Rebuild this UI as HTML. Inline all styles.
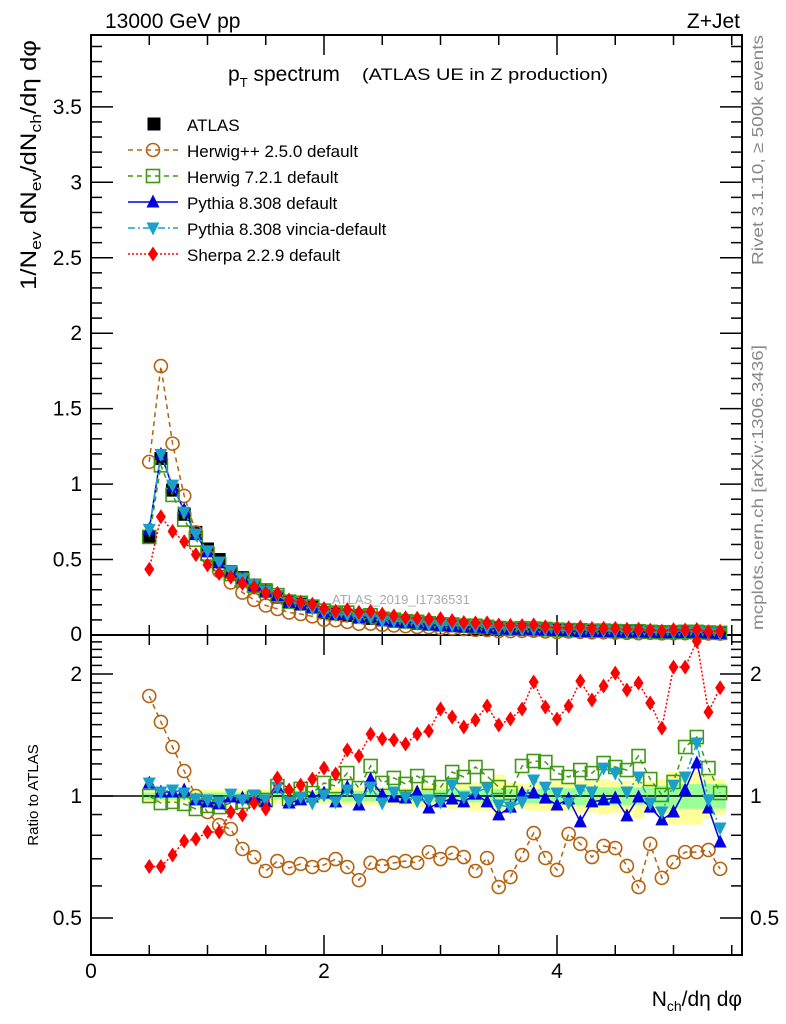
<!DOCTYPE html>
<html><head><meta charset="utf-8"><style>
body{margin:0;background:#fff;}
svg{display:block;font-family:"Liberation Sans",sans-serif;}
</style></head><body>
<svg id="chart" width="786" height="1024" viewBox="0 0 786 1024" xmlns="http://www.w3.org/2000/svg">
<rect width="786" height="1024" fill="#fff"/>
<g id="bands"></g>
<g id="axes"></g>
<g id="marks"></g>
<text x="105" y="28" font-size="21">13000 GeV pp</text>
<text x="740" y="28" font-size="21" text-anchor="end">Z+Jet</text>
<text x="228" y="81" font-size="21">p<tspan font-size="13" dy="6">T</tspan><tspan dy="-6"> spectrum</tspan></text>
<text x="362" y="80" font-size="17" textLength="246" lengthAdjust="spacingAndGlyphs">(ATLAS UE in Z production)</text>
<text x="332" y="604" font-size="13" fill="#aaa">ATLAS_2019_I1736531</text>
<text transform="translate(763,35) rotate(-90)" font-size="16" fill="#888" text-anchor="end" textLength="230" lengthAdjust="spacingAndGlyphs">Rivet 3.1.10, ≥ 500k events</text>
<text transform="translate(763,345) rotate(-90)" font-size="16" fill="#888" text-anchor="end" textLength="285" lengthAdjust="spacingAndGlyphs">mcplots.cern.ch [arXiv:1306.3436]</text>
<text transform="translate(36,290) rotate(-90)" font-size="22" textLength="250" lengthAdjust="spacingAndGlyphs">1/N<tspan font-size="15" dy="5">ev</tspan><tspan dy="-5"> dN</tspan><tspan font-size="15" dy="5">ev</tspan><tspan dy="-5">/dN</tspan><tspan font-size="15" dy="5">ch</tspan><tspan dy="-5">/dη dφ</tspan></text>
<text transform="translate(38,795) rotate(-90)" font-size="15" text-anchor="middle">Ratio to ATLAS</text>
<text x="742" y="1006" font-size="21" text-anchor="end">N<tspan font-size="14" dy="5">ch</tspan><tspan dy="-5">/dη dφ</tspan></text>
<g id="legend"></g>
</svg>
<script>
const xVals=[0.5,0.6,0.7,0.8,0.9,1.0,1.1,1.2,1.3,1.4,1.5,1.6,1.7,1.8,1.9,2.0,2.1,2.2,2.3,2.4,2.5,2.6,2.7,2.8,2.9,3.0,3.1,3.2,3.3,3.4,3.5,3.6,3.7,3.8,3.9,4.0,4.1,4.2,4.3,4.4,4.5,4.6,4.7,4.8,4.9,5.0,5.1,5.2,5.3,5.4];
const atlasVals=[0.65,1.17,0.96,0.80,0.68,0.57,0.50,0.42,0.38,0.33,0.30,0.25,0.225,0.205,0.185,0.15,0.14,0.13,0.12,0.11,0.10,0.092,0.085,0.078,0.072,0.066,0.061,0.056,0.052,0.048,0.044,0.041,0.038,0.035,0.033,0.031,0.029,0.027,0.025,0.024,0.022,0.021,0.020,0.019,0.018,0.017,0.016,0.015,0.014,0.014];
const herwigppRatio=[1.765,1.523,1.321,1.152,1.0,0.913,0.848,0.829,0.740,0.707,0.653,0.691,0.664,0.680,0.668,0.676,0.699,0.668,0.620,0.684,0.672,0.684,0.691,0.684,0.727,0.699,0.723,0.707,0.653,0.703,0.596,0.631,0.715,0.810,0.703,0.657,0.806,0.762,0.707,0.753,0.744,0.672,0.596,0.762,0.628,0.687,0.727,0.727,0.736,0.661];
const herwig7Ratio=[1.0,0.961,0.967,0.956,0.929,0.945,0.939,0.961,0.967,0.989,0.978,1.058,0.983,1.041,1.017,1.077,1.058,1.139,1.046,1.186,1.077,1.108,1.071,1.12,1.077,1.052,1.146,1.114,1.179,1.12,1.052,1.017,1.186,1.22,1.213,1.139,1.114,1.159,1.139,1.206,1.179,1.159,1.255,1.101,1.006,1.083,1.321,1.398,1.172,1.017];
const pythiaRatio=[1.077,1.023,1.023,1.035,0.978,0.967,0.956,0.994,0.989,0.994,0.967,1.052,0.961,0.978,0.994,1.017,0.967,1.052,0.95,1.101,1.006,0.994,0.989,1.023,0.934,0.967,0.983,0.967,1.011,0.967,0.898,0.939,1.017,1.017,0.989,0.95,0.983,0.863,0.967,0.978,0.989,0.893,0.994,0.939,0.873,0.913,1.035,1.206,0.934,0.77];
const vinciaRatio=[1.077,1.023,1.035,1.017,0.983,0.978,0.967,1.011,0.978,1.006,0.978,1.052,0.967,0.994,0.961,1.006,0.967,1.035,0.978,1.052,0.961,1.023,0.994,0.972,0.978,0.967,1.064,0.994,1.023,1.046,0.95,0.939,0.967,1.095,1.052,1.017,0.961,1.035,1.023,1.172,1.139,1.023,1.114,0.961,0.913,1.064,1.114,1.351,0.978,0.834];
const sherpaRatio=[0.67,0.67,0.715,0.774,0.783,0.815,0.815,0.913,0.898,0.961,0.929,1.108,1.035,1.064,1.101,1.172,1.133,1.299,1.255,1.422,1.382,1.375,1.344,1.422,1.447,1.639,1.567,1.48,1.54,1.668,1.497,1.549,1.639,1.911,1.658,1.549,1.668,1.922,1.725,1.868,2.01,1.826,1.9,1.696,1.471,2.08,2.08,2.41,1.61,1.85];
const statBand=[0.02,0.02,0.02,0.02,0.02,0.02,0.02,0.02,0.02,0.02,0.02,0.02,0.02,0.025,0.025,0.025,0.025,0.03,0.03,0.03,0.03,0.03,0.03,0.03,0.03,0.035,0.035,0.035,0.035,0.04,0.04,0.04,0.04,0.04,0.045,0.045,0.045,0.05,0.05,0.05,0.05,0.05,0.05,0.05,0.06,0.07,0.07,0.07,0.07,0.07];
const totalBand=[0.03,0.03,0.03,0.03,0.035,0.035,0.035,0.035,0.04,0.04,0.04,0.04,0.04,0.04,0.04,0.045,0.045,0.05,0.05,0.05,0.05,0.05,0.05,0.06,0.06,0.06,0.07,0.07,0.08,0.08,0.13,0.08,0.07,0.08,0.08,0.09,0.08,0.09,0.09,0.1,0.09,0.09,0.12,0.09,0.1,0.15,0.15,0.15,0.12,0.1];
const yMainTicks=[0.5,1,1.5,2,2.5,3,3.5];
const yMainTickLabels=["0.5","1","1.5","2","2.5","3","3.5"];
const xTicks=[0,2,4];
const xTickLabels=["0","2","4"];
const ratioTicks=[0.5,1,2];
const ratioTickLabels=["0.5","1","2"];

const NS="http://www.w3.org/2000/svg";
const L=91,R=742,T1=35,B1=635,T2=635,B2=955;
const xS=v=>L+ (v)*116.5;
const yM=v=>B1-v*150.9;
const yR=v=>796-122*Math.log2(v);
function mk(tag,attrs,parent){const e=document.createElementNS(NS,tag);for(const k in attrs)e.setAttribute(k,attrs[k]);parent.appendChild(e);return e;}
const axes=document.getElementById('axes'),marks=document.getElementById('marks'),bands=document.getElementById('bands'),leg=document.getElementById('legend');

xVals.forEach((x,i)=>{
  const x0=xS(x-0.05),x1=xS(x+0.05);
  let r=mk('rect',{x:x0,y:yR(1+totalBand[i]),width:x1-x0,height:yR(1-totalBand[i])-yR(1+totalBand[i]),fill:'#ffff99'},bands);
  
  
  r=mk('rect',{x:x0,y:yR(1+statBand[i]),width:x1-x0,height:yR(1-statBand[i])-yR(1+statBand[i]),fill:'#99ff99'},bands);
  
  
});

let f=mk('rect',{x:L,y:T1,width:R-L,height:B1-T1,fill:'none',stroke:'#000','stroke-width':2},axes);

f=mk('rect',{x:L,y:T2,width:R-L,height:B2-T2,fill:'none',stroke:'#000','stroke-width':2},axes);

mk('line',{x1:L,x2:R,y1:yR(1),y2:yR(1),stroke:'#000','stroke-width':1.5},axes);
for(let v=0;v<=5.5;v+=0.5){
  const major=Math.abs(v%2)<1e-6;const len=major?20:10;const x=xS(v);
  [[T1,1],[B1,-1],[T2,1],[B2,-1]].forEach(([y,d])=>mk('line',{x1:x,x2:x,y1:y,y2:y+d*len,stroke:'#000','stroke-width':1.5},axes));
}
xTicks.forEach((v,i)=>{const t=mk('text',{x:xS(v),y:978,'font-size':21,'text-anchor':'middle'},axes);t.textContent=xTickLabels[i];
});
for(let k=1;k<=39;k++){const v=k/10;const major=k%5==0;const len=major?22:11;const y=yM(v);
  mk('line',{x1:L,x2:L+len,y1:y,y2:y,stroke:'#000','stroke-width':1.5},axes);
  mk('line',{x1:R,x2:R-len,y1:y,y2:y,stroke:'#000','stroke-width':1.5},axes);}
yMainTicks.forEach((v,i)=>{const t=mk('text',{x:82,y:yM(v)+7,'font-size':21,'text-anchor':'end'},axes);t.textContent=yMainTickLabels[i];
});
let z=mk('text',{x:82,y:641,'font-size':21,'text-anchor':'end'},axes);z.textContent='0';
[0.5,0.6,0.7,0.8,0.9,1,1.1,1.2,1.3,1.4,1.5,1.6,1.7,1.8,1.9,2,2.1,2.2,2.3,2.4].forEach(v=>{
  const major=[0.5,1,2].includes(v);const len=major?22:11;const y=yR(v);
  mk('line',{x1:L,x2:L+len,y1:y,y2:y,stroke:'#000','stroke-width':1.5},axes);
  mk('line',{x1:R,x2:R-len,y1:y,y2:y,stroke:'#000','stroke-width':1.5},axes);});
ratioTicks.forEach((v,i)=>{
  let t=mk('text',{x:82,y:yR(v)+7,'font-size':21,'text-anchor':'end'},axes);t.textContent=ratioTickLabels[i];
  
  t=mk('text',{x:750,y:yR(v)+7,'font-size':21},axes);t.textContent=ratioTickLabels[i];
  });

function marker(type,x,y,color,g){
  const s=6.5;
  if(type=='square')return mk('rect',{x:x-s,y:y-s,width:2*s,height:2*s,fill:'#000'},g);
  if(type=='osquare')return mk('rect',{x:x-s,y:y-s,width:2*s,height:2*s,fill:'none',stroke:color,'stroke-width':1.6},g);
  if(type=='circle')return mk('circle',{cx:x,cy:y,r:s,fill:'none',stroke:color,'stroke-width':1.6},g);
  if(type=='up')return mk('polygon',{points:`${x},${y-s-1} ${x-s},${y+s-1} ${x+s},${y+s-1}`,fill:color},g);
  if(type=='down')return mk('polygon',{points:`${x},${y+s+1} ${x-s},${y-s+1} ${x+s},${y-s+1}`,fill:color},g);
  if(type=='diamond')return mk('polygon',{points:`${x},${y-7.5} ${x-5},${y} ${x},${y+7.5} ${x+5},${y}`,fill:color},g);
}
const series=[
 {name:'herwigpp',label:'Herwig++ 2.5.0 default',ratio:herwigppRatio,color:'#b5620f',dash:'5,4',type:'circle'},
 {name:'herwig7',label:'Herwig 7.2.1 default',ratio:herwig7Ratio,color:'#3f9a12',dash:'5,4',type:'osquare'},
 {name:'pythia',label:'Pythia 8.308 default',ratio:pythiaRatio,color:'#0000e0',dash:'',type:'up'},
 {name:'vincia',label:'Pythia 8.308 vincia-default',ratio:vinciaRatio,color:'#1aa0c8',dash:'7,3,2,3',type:'down'},
 {name:'sherpa',label:'Sherpa 2.2.9 default',ratio:sherpaRatio,color:'#ff0000',dash:'2,2',type:'diamond'}];

const ga=mk('g',{},marks);
xVals.forEach((x,i)=>{const m=marker('square',xS(x),yM(atlasVals[i]),'#000',ga);
  });
series.forEach(s=>{
  const g=mk('g',{},marks);
  
  
  const pm=xVals.map((x,i)=>`${xS(x)},${yM(atlasVals[i]*s.ratio[i])}`).join(' ');
  const pr=xVals.map((x,i)=>`${xS(x)},${Math.max(T2,yR(s.ratio[i]))}`).join(' ');
  mk('polyline',{points:pm,fill:'none',stroke:s.color,'stroke-width':1.5,'stroke-dasharray':s.dash},g);
  mk('polyline',{points:pr,fill:'none',stroke:s.color,'stroke-width':1.5,'stroke-dasharray':s.dash},g);
  xVals.forEach((x,i)=>{
    let m=marker(s.type,xS(x),yM(atlasVals[i]*s.ratio[i]),s.color,g);
    
    
    m=marker(s.type,xS(x),Math.max(T2,yR(s.ratio[i])),s.color,g);
    
    
  });
});
const ly=[124,150,176,202,228,254];
let e=mk('g',{},leg);
marker('square',154,ly[0],'#000',e);
let t=mk('text',{x:187,y:ly[0]+7,'font-size':17},e);t.textContent='ATLAS';
series.forEach((s,i)=>{
  const g=mk('g',{},leg);
  
  
  mk('line',{x1:128,x2:178,y1:ly[i+1],y2:ly[i+1],stroke:s.color,'stroke-width':1.5,'stroke-dasharray':s.dash},g);
  marker(s.type,153,ly[i+1],s.color,g);
  const tt=mk('text',{x:187,y:ly[i+1]+7,'font-size':17},g);tt.textContent=s.label;
});
</script>
</body></html>
